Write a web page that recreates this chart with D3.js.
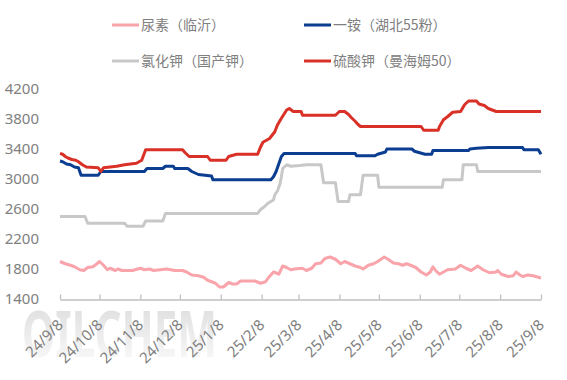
<!DOCTYPE html>
<html>
<head>
<meta charset="utf-8">
<script src="https://cdn.jsdelivr.net/npm/d3@7"></script>
<style>
  body { margin: 0; background: #fff; }
  svg { display: block; }
</style>
</head>
<body>
<svg id="chart" width="567" height="380"></svg>
<script>
const seriesNames = ["尿素（临沂）", "一铵（湖北55粉）", "氯化钾（国产钾）", "硫酸钾（曼海姆50）"];
const seriesColors = ["#f9a3ab", "#0b3d91", "#c8c8c8", "#d93127"];

// 尿素（临沂）
const urea = [
  ["2024-09-08",1900],["2024-09-12",1870],["2024-09-16",1850],["2024-09-19",1830],["2024-09-23",1790],
  ["2024-09-26",1780],["2024-09-29",1820],["2024-10-03",1830],["2024-10-06",1870],["2024-10-08",1900],
  ["2024-10-11",1850],["2024-10-14",1790],["2024-10-16",1810],["2024-10-20",1780],["2024-10-22",1800],
  ["2024-10-25",1780],["2024-11-02",1780],["2024-11-08",1810],["2024-11-11",1790],["2024-11-15",1800],
  ["2024-11-18",1780],["2024-11-28",1800],["2024-12-04",1780],["2024-12-10",1780],["2024-12-13",1760],
  ["2024-12-17",1720],["2024-12-22",1710],["2024-12-26",1690],["2024-12-29",1650],["2025-01-04",1610],
  ["2025-01-07",1560],["2025-01-10",1560],["2025-01-14",1620],["2025-01-17",1600],["2025-01-20",1600],
  ["2025-01-23",1640],["2025-02-03",1640],["2025-02-07",1610],["2025-02-11",1630],["2025-02-13",1680],
  ["2025-02-17",1760],["2025-02-20",1740],["2025-02-21",1730],["2025-02-24",1840],["2025-02-27",1820],
  ["2025-03-02",1790],["2025-03-05",1800],["2025-03-11",1810],["2025-03-14",1780],["2025-03-18",1810],
  ["2025-03-21",1870],["2025-03-25",1880],["2025-03-28",1940],["2025-04-01",1960],["2025-04-05",1930],
  ["2025-04-09",1870],["2025-04-12",1900],["2025-04-16",1870],["2025-04-20",1840],["2025-04-24",1820],
  ["2025-04-26",1800],["2025-04-30",1850],["2025-05-04",1870],["2025-05-07",1900],["2025-05-12",1960],
  ["2025-05-15",1930],["2025-05-19",1880],["2025-05-23",1870],["2025-05-26",1850],["2025-05-29",1870],
  ["2025-06-01",1850],["2025-06-05",1820],["2025-06-09",1760],["2025-06-13",1720],["2025-06-16",1760],
  ["2025-06-18",1830],["2025-06-20",1780],["2025-06-23",1730],["2025-06-26",1760],["2025-06-29",1790],
  ["2025-07-05",1800],["2025-07-09",1850],["2025-07-13",1810],["2025-07-17",1780],["2025-07-22",1840],
  ["2025-07-26",1790],["2025-07-31",1750],["2025-08-05",1760],["2025-08-06",1780],["2025-08-09",1730],
  ["2025-08-14",1700],["2025-08-18",1710],["2025-08-20",1760],["2025-08-23",1720],["2025-08-25",1700],
  ["2025-08-29",1720],["2025-09-02",1710],["2025-09-06",1690],["2025-09-08",1680]
];

// 一铵（湖北55粉）
const map55 = [
  ["2024-09-08",3240],["2024-09-10",3230],["2024-09-13",3200],["2024-09-16",3190],["2024-09-19",3160],
  ["2024-09-22",3150],["2024-09-24",3050],["2024-10-07",3050],["2024-10-09",3100],["2024-11-11",3100],
  ["2024-11-13",3140],["2024-11-25",3140],["2024-11-27",3170],["2024-12-03",3170],["2024-12-04",3140],
  ["2024-12-14",3140],["2024-12-17",3100],["2024-12-22",3060],["2025-01-01",3040],["2025-01-02",2990],
  ["2025-02-15",2990],["2025-02-17",3030],["2025-02-19",3100],["2025-02-21",3200],["2025-02-23",3300],
  ["2025-02-25",3340],["2025-04-20",3340],["2025-04-21",3310],["2025-05-05",3310],["2025-05-07",3330],
  ["2025-05-13",3360],["2025-05-14",3400],["2025-06-02",3400],["2025-06-04",3370],["2025-06-08",3350],
  ["2025-06-12",3330],["2025-06-17",3330],["2025-06-18",3380],["2025-07-15",3380],["2025-07-16",3400],
  ["2025-07-21",3410],["2025-07-30",3420],["2025-08-25",3420],["2025-08-26",3390],["2025-09-06",3390],
  ["2025-09-08",3330]
];

// 氯化钾（国产钾）
const kcl = [
  ["2024-09-08",2500],["2024-09-27",2500],["2024-09-29",2410],["2024-10-27",2410],["2024-10-29",2370],
  ["2024-11-10",2370],["2024-11-12",2440],["2024-11-25",2440],["2024-11-27",2540],["2025-02-05",2540],
  ["2025-02-07",2590],["2025-02-10",2630],["2025-02-13",2680],["2025-02-17",2720],["2025-02-18",2790],
  ["2025-02-20",2840],["2025-02-22",2940],["2025-02-23",3030],["2025-02-24",3140],["2025-02-27",3190],
  ["2025-03-02",3170],["2025-03-09",3180],["2025-03-14",3190],["2025-03-25",3190],["2025-03-27",2950],
  ["2025-04-05",2950],["2025-04-07",2700],["2025-04-15",2700],["2025-04-16",2790],["2025-04-24",2790],
  ["2025-04-26",3050],["2025-05-07",3050],["2025-05-08",2890],["2025-06-25",2890],["2025-06-26",2990],
  ["2025-07-10",2990],["2025-07-11",3190],["2025-07-21",3190],["2025-07-22",3100],["2025-09-08",3100]
];

// 硫酸钾（曼海姆50）
const sop = [
  ["2024-09-08",3340],["2024-09-10",3330],["2024-09-12",3300],["2024-09-14",3280],["2024-09-17",3260],
  ["2024-09-20",3250],["2024-09-22",3230],["2024-09-25",3190],["2024-09-28",3160],["2024-10-07",3150],
  ["2024-10-09",3100],["2024-10-11",3150],["2024-10-21",3170],["2024-10-27",3190],["2024-11-05",3210],
  ["2024-11-09",3250],["2024-11-12",3390],["2024-12-10",3390],["2024-12-12",3350],["2024-12-15",3300],
  ["2024-12-29",3300],["2024-12-31",3250],["2025-01-12",3250],["2025-01-14",3300],["2025-01-20",3330],
  ["2025-02-05",3330],["2025-02-07",3420],["2025-02-09",3490],["2025-02-14",3540],["2025-02-18",3630],
  ["2025-02-20",3720],["2025-02-23",3810],["2025-02-27",3920],["2025-03-01",3940],["2025-03-04",3900],
  ["2025-03-10",3900],["2025-03-11",3850],["2025-04-05",3850],["2025-04-08",3900],["2025-04-12",3900],
  ["2025-04-15",3860],["2025-04-17",3820],["2025-04-20",3770],["2025-04-22",3730],["2025-04-24",3700],
  ["2025-06-09",3700],["2025-06-11",3650],["2025-06-22",3650],["2025-06-23",3700],["2025-06-26",3790],
  ["2025-06-29",3830],["2025-07-03",3890],["2025-07-09",3900],["2025-07-12",3990],["2025-07-15",4040],
  ["2025-07-21",4040],["2025-07-23",4000],["2025-07-27",3980],["2025-07-30",3940],["2025-08-05",3900],
  ["2025-09-08",3900]
];

const xTicks = ["2024-09-08","2024-10-08","2024-11-08","2024-12-08","2025-01-08","2025-02-08","2025-03-08",
  "2025-04-08","2025-05-08","2025-06-08","2025-07-08","2025-08-08","2025-09-08"];
const yTicks = [1400, 1800, 2200, 2600, 3000, 3400, 3800, 4200];

const parse = d3.timeParse("%Y-%m-%d");
const fmt = d => `${d.getFullYear() % 100}/${d.getMonth() + 1}/${d.getDate()}`;

const svg = d3.select("#chart");
const textColor = "#808080";

// Watermark
const defs = svg.append("defs");
const grad = defs.append("linearGradient").attr("id", "wm").attr("x1", 0).attr("y1", 0).attr("x2", 0).attr("y2", 1);
grad.append("stop").attr("offset", "0%").attr("stop-color", "#cfcfcf");
grad.append("stop").attr("offset", "100%").attr("stop-color", "#ffffff");
svg.append("text").attr("x", 22).attr("y", 357)
  .attr("font-family", "Noto Sans, sans-serif").attr("font-size", 64).attr("font-weight", 700)
  .attr("textLength", 195).attr("lengthAdjust", "spacingAndGlyphs")
  .attr("fill", "url(#wm)").attr("opacity", 0.8)
  .text("OILCHEM");

const x = d3.scaleTime().domain([parse(xTicks[0]), parse(xTicks[xTicks.length - 1])]).range([60, 541]);
const y = d3.scaleLinear().domain([1400, 4200]).range([299, 89]);

// Y axis (labels only)
const yAxis = svg.append("g").attr("transform", "translate(60,0)")
  .call(d3.axisLeft(y).tickValues(yTicks).tickFormat(d3.format("d")).tickSize(0).tickPadding(21));
yAxis.select(".domain").remove();
yAxis.selectAll("text").attr("fill", textColor)
  .attr("font-family", "Noto Sans, sans-serif").attr("font-size", 15);

// X axis
const xAxis = svg.append("g").attr("transform", `translate(0,${y(1400) + 0.5})`)
  .call(d3.axisBottom(x).tickValues(xTicks.map(parse)).tickSizeInner(-5).tickSizeOuter(0).tickFormat(""));
xAxis.select(".domain").attr("stroke", "#bfbfbf").attr("stroke-width", 1.3);
xAxis.selectAll(".tick line").attr("stroke", "#bfbfbf").attr("stroke-width", 1.3);

svg.append("g").selectAll("text")
  .data(xTicks.map(parse))
  .enter().append("text")
    .attr("transform", d => `translate(${x(d) + 4},326) rotate(-45)`)
    .attr("text-anchor", "end")
    .attr("fill", textColor)
    .attr("font-family", "Noto Sans, sans-serif").attr("font-size", 15)
    .text(fmt);

// Lines
const line = d3.line().x(d => x(parse(d[0]))).y(d => y(d[1]));
const allSeries = [urea, map55, kcl, sop];
allSeries.forEach((s, i) => {
  svg.append("path").datum(s)
    .attr("fill", "none")
    .attr("stroke", seriesColors[i])
    .attr("stroke-width", 3)
    .attr("stroke-linejoin", "round")
    .attr("d", line);
});

// Legend
const legendPos = [[112, 25], [304, 25], [112, 61], [304, 61]];
seriesNames.forEach((name, i) => {
  const [lx, ly] = legendPos[i];
  svg.append("line").attr("x1", lx).attr("x2", lx + 27).attr("y1", ly).attr("y2", ly)
    .attr("stroke", seriesColors[i]).attr("stroke-width", 3);
  svg.append("text").attr("x", lx + 29).attr("y", ly).attr("dy", "0.36em")
    .attr("fill", textColor)
    .attr("font-family", "Noto Sans CJK SC, sans-serif").attr("font-size", 14)
    .text(name);
});
</script>
</body>
</html>
